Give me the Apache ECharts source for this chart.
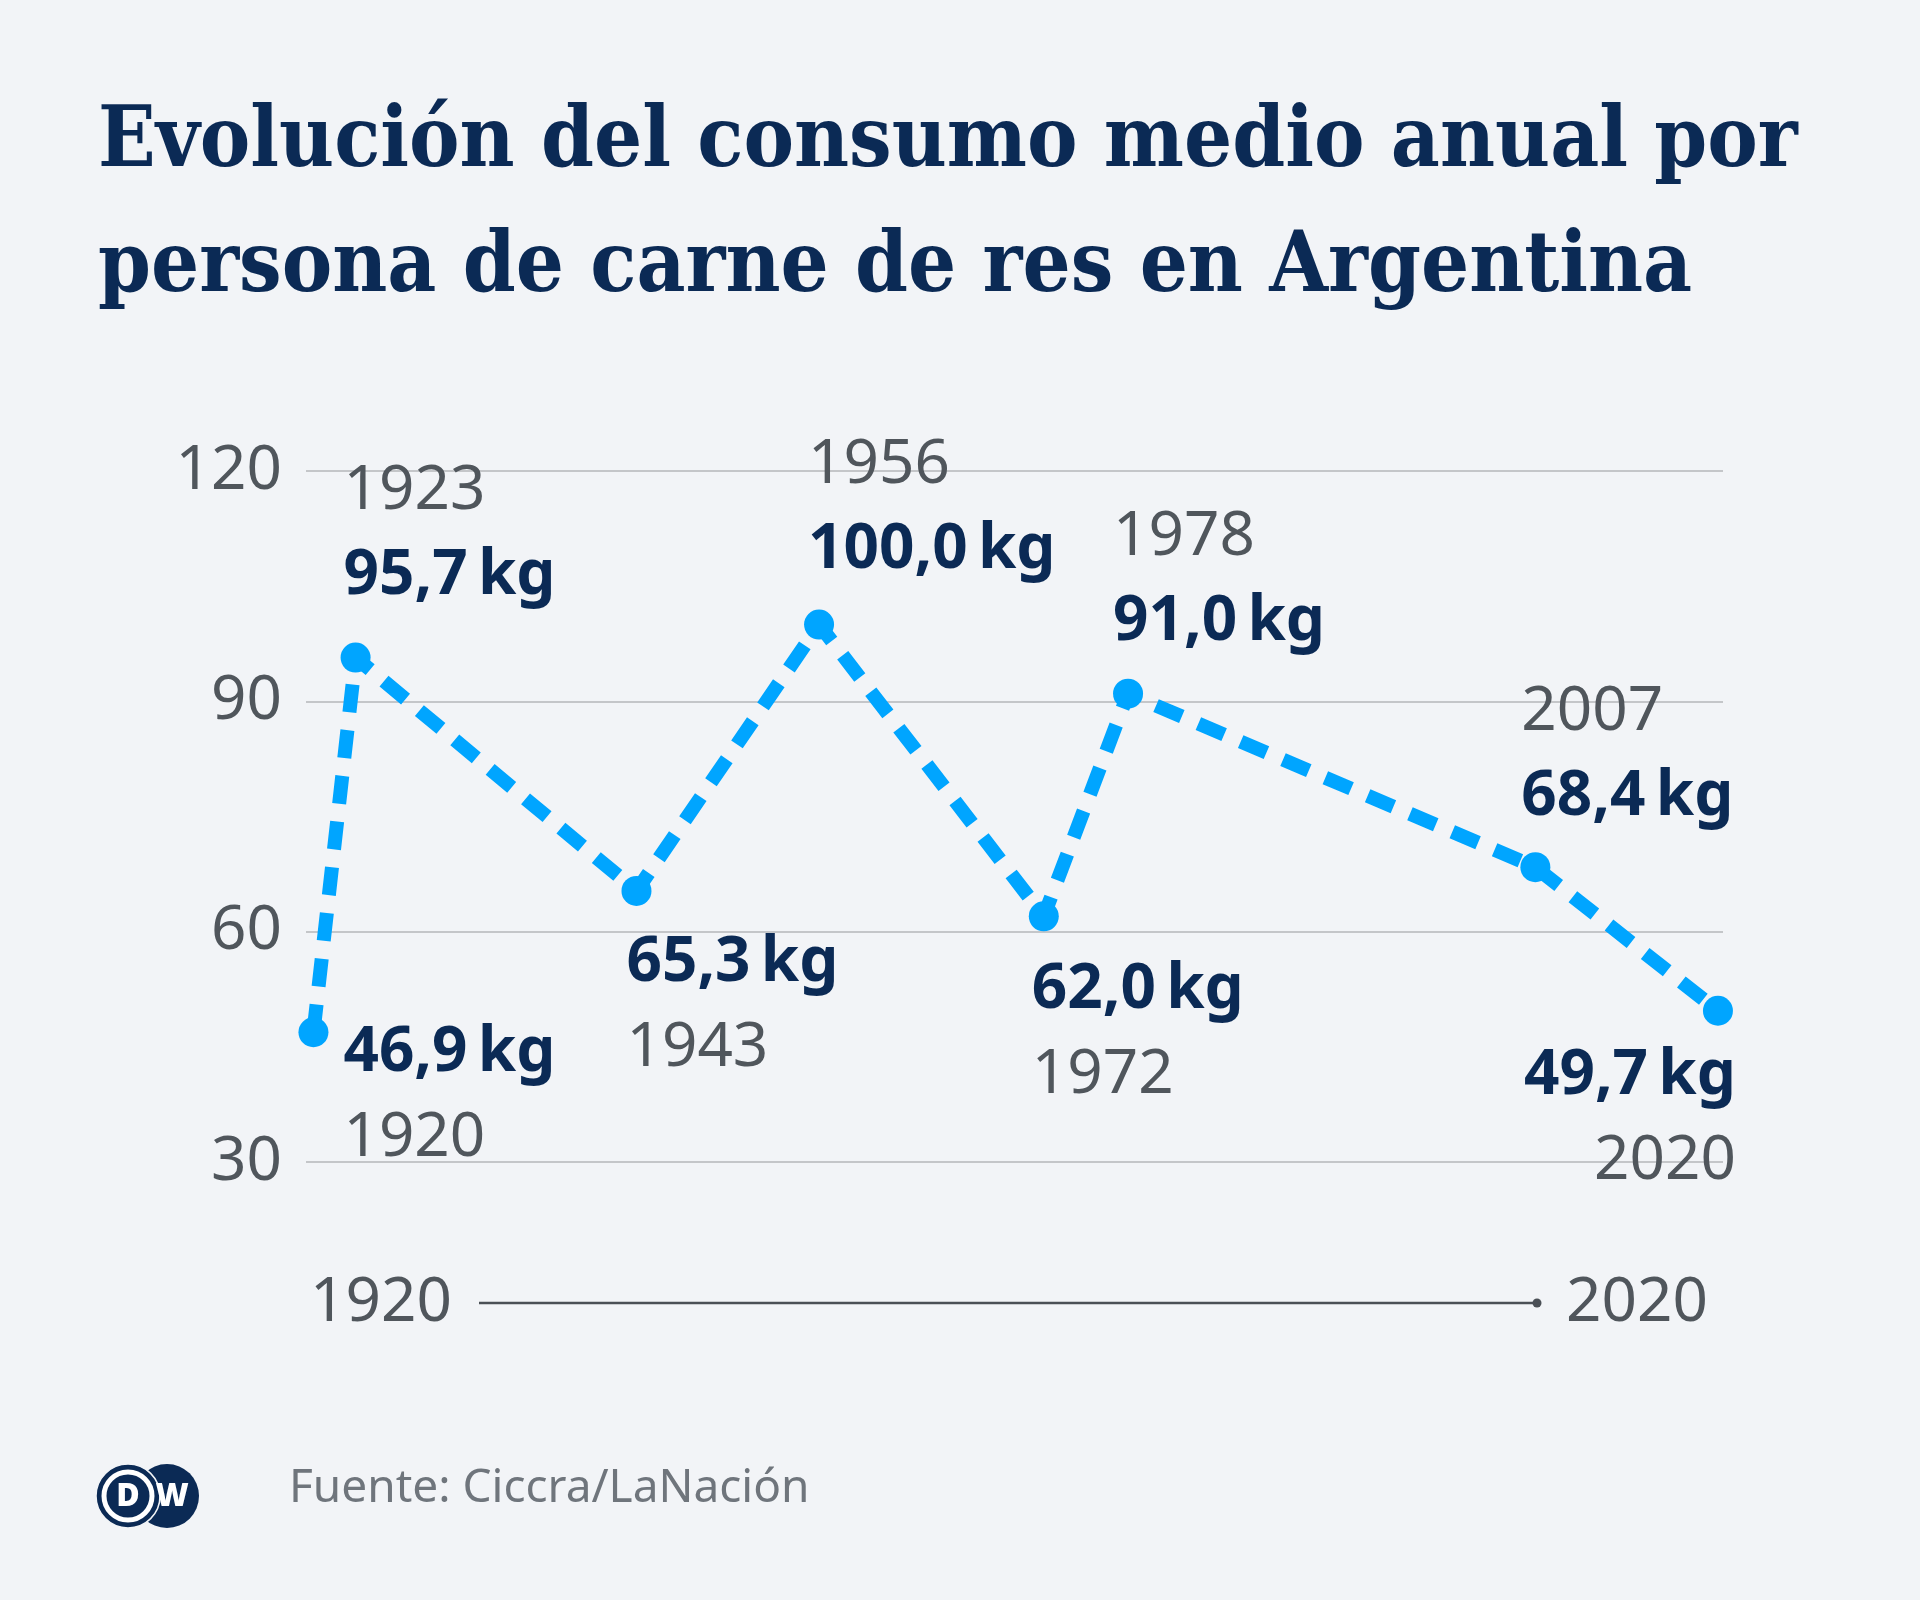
<!DOCTYPE html>
<html>
<head>
<meta charset="utf-8">
<script src="https://cdn.jsdelivr.net/npm/echarts@6/dist/echarts.min.js"></script>
<style>
  html, body { margin: 0; padding: 0; background: #f2f4f7; }
  #chart { width: 1920px; height: 1600px; }
</style>
</head>
<body>
<div id="chart"></div>
<script>
// ---- Data ----
const years = [1920, 1923, 1943, 1956, 1972, 1978, 2007, 2020];
const consumo = [46.9, 95.7, 65.3, 100.0, 62.0, 91.0, 68.4, 49.7];
const yTicks = [30, 60, 90, 120];
const titleLines = ['Evolución del consumo medio anual por', 'persona de carne de res en Argentina'];
const sourceText = 'Fuente: Ciccra/LaNación';

// ---- Layout (label placement per point) ----
const labelSide = ['below', 'above', 'below', 'above', 'below', 'above', 'above', 'below'];
const labelDx = [30, -12, -10, -11, -12, -15, -14, 18];
const labelDy = [64, -124, 115, -117, 117, -114, -112, 108];
const labelAlign = ['left', 'left', 'left', 'left', 'left', 'left', 'left', 'right'];

const NAVY = '#0b2a55';
const GRAY = '#50565c';
const BLUE = '#00a5ff';
const BG = '#f2f4f7';

function fmt(v) { return v.toFixed(1).replace('.', ',') + '\u2009kg'; }

const measureCtx = document.createElement('canvas').getContext('2d');
function fitSize(text, weight, family, targetW) {
  measureCtx.font = weight + ' 100px ' + family;
  return 100 * targetW / measureCtx.measureText(text).width;
}

const titleFamily = "'DejaVu Serif Condensed', 'Liberation Serif', serif";
const titleSize = fitSize(titleLines[0], 'bold', titleFamily, 1700);

const rich = {
  v: { fontFamily: 'Noto Sans', fontWeight: 'bold', fontSize: 62, color: NAVY, lineHeight: 85 },
  y: { fontFamily: 'Noto Sans', fontWeight: 'normal', fontSize: 62, color: GRAY, lineHeight: 85 },
  vr: { fontFamily: 'Noto Sans', fontWeight: 'bold', fontSize: 62, color: NAVY, lineHeight: 85, align: 'right' },
  yr: { fontFamily: 'Noto Sans', fontWeight: 'normal', fontSize: 62, color: GRAY, lineHeight: 85, align: 'right' }
};

const seriesData = years.map((yr, i) => {
  const r = labelAlign[i] === 'right';
  const v = r ? 'vr' : 'v', y = r ? 'yr' : 'y';
  const txt = labelSide[i] === 'above'
    ? `{${y}|${yr}}\n{${v}|${fmt(consumo[i])}}`
    : `{${v}|${fmt(consumo[i])}}\n{${y}|${yr}}`;
  return {
    value: [yr, consumo[i]],
    label: {
      show: true,
      position: 'inside',
      align: labelAlign[i],
      verticalAlign: 'middle',
      offset: [labelDx[i], labelDy[i]],
      formatter: txt,
      rich: rich
    }
  };
});

const chart = echarts.init(document.getElementById('chart'), null, { renderer: 'canvas' });

const option = {
  backgroundColor: BG,
  animation: false,
  grid: { left: 306, right: 197, top: 471, bottom: 438 },
  xAxis: { type: 'value', min: 1919.47, max: 2020.36, show: false },
  yAxis: {
    type: 'value', min: yTicks[0], max: yTicks[yTicks.length - 1], interval: 30,
    axisLine: { show: false }, axisTick: { show: false },
    splitLine: { show: true, lineStyle: { color: '#c4c6c9', width: 2 } },
    axisLabel: { fontFamily: 'Noto Sans', fontWeight: 'normal', fontSize: 62, color: GRAY, margin: 24 }
  },
  series: [{
    type: 'line',
    data: seriesData,
    symbol: 'circle',
    symbolSize: 30,
    itemStyle: { color: BLUE },
    lineStyle: { color: BLUE, width: 14, type: [28, 18], cap: 'butt' },
    z: 3
  }],
  graphic: [
    { type: 'text', z: 10, style: { x: 98, y: 144, text: titleLines[0], fontFamily: titleFamily, fontWeight: 'bold', fontSize: titleSize, fill: NAVY, align: 'left', verticalAlign: 'middle' } },
    { type: 'text', z: 10, style: { x: 98, y: 269, text: titleLines[1], fontFamily: titleFamily, fontWeight: 'bold', fontSize: titleSize, fill: NAVY, align: 'left', verticalAlign: 'middle' } },
    // timeline
    { type: 'line', z: 10, shape: { x1: 479, y1: 1303, x2: 1537, y2: 1303 }, style: { stroke: '#4b5056', lineWidth: 2.5 } },
    { type: 'circle', z: 10, shape: { cx: 1537, cy: 1303, r: 4.5 }, style: { fill: '#4b5056' } },
    { type: 'text', z: 10, style: { x: 310, y: 1303, text: String(years[0]), fontFamily: 'Noto Sans', fontSize: 62, fill: GRAY, align: 'left', verticalAlign: 'middle' } },
    { type: 'text', z: 10, style: { x: 1566, y: 1303, text: String(years[years.length - 1]), fontFamily: 'Noto Sans', fontSize: 62, fill: GRAY, align: 'left', verticalAlign: 'middle' } },
    // logo
    { type: 'circle', z: 10, shape: { cx: 167, cy: 1496, r: 32 }, style: { fill: NAVY } },
    { type: 'circle', z: 11, shape: { cx: 128, cy: 1496, r: 32 }, style: { fill: NAVY, stroke: BG, lineWidth: 1.5 } },
    { type: 'circle', z: 12, shape: { cx: 128, cy: 1496, r: 24 }, style: { fill: 'none', stroke: '#ffffff', lineWidth: 5 } },
    { type: 'text', z: 13, style: { x: 128, y: 1497, text: 'D', fontFamily: 'Noto Sans', fontWeight: 900, fontSize: 32, fill: '#ffffff', align: 'center', verticalAlign: 'middle' } },
    { type: 'text', z: 13, style: { x: 172, y: 1497, text: 'W', fontFamily: 'Noto Sans', fontWeight: 900, fontSize: 32, fill: '#ffffff', align: 'center', verticalAlign: 'middle' } },
    // source
    { type: 'text', z: 10, style: { x: 289, y: 1489, text: sourceText, fontFamily: 'Noto Sans', fontSize: 46, fill: '#6f757c', align: 'left', verticalAlign: 'middle' } }
  ]
};
chart.setOption(option);
</script>
</body>
</html>
